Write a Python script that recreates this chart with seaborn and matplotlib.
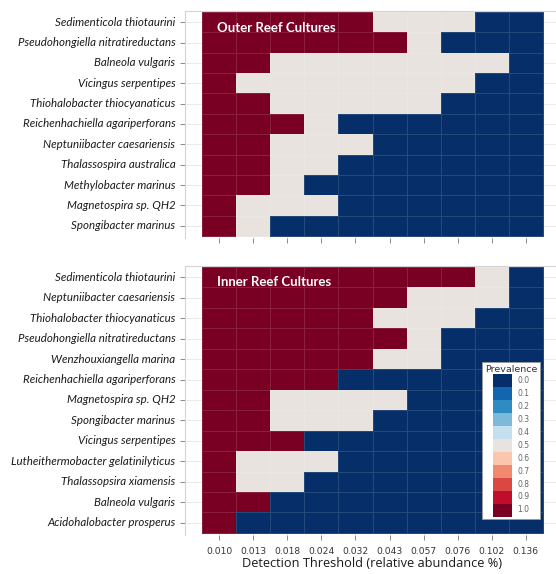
import numpy as np
import pandas as pd
import seaborn as sns
import matplotlib
matplotlib.use("Agg")
import matplotlib.pyplot as plt
from matplotlib.colors import ListedColormap, BoundaryNorm
from matplotlib.patches import Patch

# Detection thresholds (relative abundance %)
thresholds = ["0.010", "0.013", "0.018", "0.024", "0.032",
              "0.043", "0.057", "0.076", "0.102", "0.136"]

outer_species = [
    "Sedimenticola thiotaurini",
    "Pseudohongiella nitratireductans",
    "Balneola vulgaris",
    "Vicingus serpentipes",
    "Thiohalobacter thiocyanaticus",
    "Reichenhachiella agariperforans",
    "Neptuniibacter caesariensis",
    "Thalassospira australica",
    "Methylobacter marinus",
    "Magnetospira sp. QH2",
    "Spongibacter marinus",
]
outer_prevalence = [
    [1, 1, 1, 1, 1, .5, .5, .5, 0, 0],
    [1, 1, 1, 1, 1, 1, .5, 0, 0, 0],
    [1, 1, .5, .5, .5, .5, .5, .5, .5, 0],
    [1, .5, .5, .5, .5, .5, .5, .5, 0, 0],
    [1, 1, .5, .5, .5, .5, .5, 0, 0, 0],
    [1, 1, 1, .5, 0, 0, 0, 0, 0, 0],
    [1, 1, .5, .5, .5, 0, 0, 0, 0, 0],
    [1, 1, .5, .5, 0, 0, 0, 0, 0, 0],
    [1, 1, .5, 0, 0, 0, 0, 0, 0, 0],
    [1, .5, .5, .5, 0, 0, 0, 0, 0, 0],
    [1, .5, 0, 0, 0, 0, 0, 0, 0, 0],
]

inner_species = [
    "Sedimenticola thiotaurini",
    "Neptuniibacter caesariensis",
    "Thiohalobacter thiocyanaticus",
    "Pseudohongiella nitratireductans",
    "Wenzhouxiangella marina",
    "Reichenhachiella agariperforans",
    "Magnetospira sp. QH2",
    "Spongibacter marinus",
    "Vicingus serpentipes",
    "Lutheithermobacter gelatinilyticus",
    "Thalassopsira xiamensis",
    "Balneola vulgaris",
    "Acidohalobacter prosperus",
]
inner_prevalence = [
    [1, 1, 1, 1, 1, 1, 1, 1, .5, 0],
    [1, 1, 1, 1, 1, 1, .5, .5, .5, 0],
    [1, 1, 1, 1, 1, .5, .5, .5, 0, 0],
    [1, 1, 1, 1, 1, 1, .5, 0, 0, 0],
    [1, 1, 1, 1, 1, .5, .5, 0, 0, 0],
    [1, 1, 1, 1, 0, 0, 0, 0, 0, 0],
    [1, 1, .5, .5, .5, .5, 0, 0, 0, 0],
    [1, 1, .5, .5, .5, 0, 0, 0, 0, 0],
    [1, 1, 1, 0, 0, 0, 0, 0, 0, 0],
    [1, .5, .5, .5, 0, 0, 0, 0, 0, 0],
    [1, .5, .5, 0, 0, 0, 0, 0, 0, 0],
    [1, 1, 0, 0, 0, 0, 0, 0, 0, 0],
    [1, 0, 0, 0, 0, 0, 0, 0, 0, 0],
]

# Prevalence legend levels and a diverging blue-white-red palette
prevalence_levels = ["0.0", "0.1", "0.2", "0.3", "0.4", "0.5",
                     "0.6", "0.7", "0.8", "0.9", "1.0"]
palette = ["#062f69", "#1166ad", "#2f8cc3", "#7db9da", "#c6dfee", "#e8e3de",
           "#fbc6ae", "#f2886e", "#da4843", "#c00d2b", "#790023"]
cmap = ListedColormap(palette)
norm = BoundaryNorm(np.linspace(-0.05, 1.05, 12), cmap.N)

sns.set_style("white")
plt.rcParams["font.family"] = ["Lato", "DejaVu Sans"]

W, H = 556, 574
fig = plt.figure(figsize=(W / 100, H / 100), dpi=100)


def px_axes(left, top, right, bottom):
    return fig.add_axes([left / W, 1 - bottom / H, (right - left) / W, (bottom - top) / H])


ax_outer = px_axes(185, 11, 560, 238)
ax_inner = px_axes(185, 266, 560, 535)

panels = [
    (ax_outer, outer_species, outer_prevalence, "Outer Reef Cultures", 0.78),
    (ax_inner, inner_species, inner_prevalence, "Inner Reef Cultures", 0.74),
]

for ax, species, values, title, ty in panels:
    df = pd.DataFrame(values, index=species, columns=thresholds)
    sns.heatmap(df, ax=ax, cmap=cmap, norm=norm, cbar=False,
                linewidths=0.6, linecolor=(1, 1, 1, 0.13))
    n = len(species)
    ax.set_xlim(-0.5, 10.5)
    ax.set_ylim(n + 0.1, -0.05)
    ax.set_axisbelow(True)
    ax.grid(True, color="#ebebeb", lw=0.7)
    for s in ["top", "left", "right"]:
        ax.spines[s].set_visible(True)
        ax.spines[s].set_color("#d4d4d4")
        ax.spines[s].set_linewidth(0.8)
    ax.spines["bottom"].set_color("#8a8a8a")
    ax.spines["bottom"].set_linewidth(1.0)
    ax.tick_params(axis="both", which="both", length=3.5, width=0.7, color="#8a8a8a",
                   bottom=True, left=True)
    ax.set_yticklabels(species, rotation=0, fontstyle="italic", fontsize=8.3,
                       color="#1a1a1a")
    ax.set_xlabel("")
    ax.set_ylabel("")
    ax.text(0.45, ty, title, color="white", fontsize=9.5, fontweight="bold",
            ha="left", va="center")

ax_outer.set_xticklabels([])
ax_inner.set_xticklabels(thresholds, rotation=0, fontsize=6.6, color="#333333",
                         family="DejaVu Sans")
ax_inner.tick_params(axis="x", pad=5)
ax_inner.set_xlabel("Detection Threshold (relative abundance %)", fontsize=9.2,
                    color="#1a1a1a", family="Open Sans", labelpad=1)

handles = [Patch(facecolor=c, edgecolor="none", label=l)
           for c, l in zip(palette, prevalence_levels)]
leg = ax_inner.legend(handles=handles, title="Prevalence", loc="upper left",
                      bbox_to_anchor=(482 / W, 1 - 362 / H),
                      bbox_transform=fig.transFigure,
                      title_fontsize=6.8, handlelength=2.5, handleheight=2.24,
                      labelspacing=0, handletextpad=0.7, borderpad=0.35,
                      borderaxespad=0, frameon=True, fancybox=False,
                      framealpha=1.0, facecolor="white",
                      prop={"family": "DejaVu Sans", "size": 5.5})
leg.get_frame().set_edgecolor("#9a9a9a")
leg.get_frame().set_linewidth(0.6)
leg.get_title().set_color("#333333")
leg.get_title().set_family("DejaVu Sans")
for t in leg.get_texts():
    t.set_color("#666666")

fig.savefig("out.png", dpi=100)
